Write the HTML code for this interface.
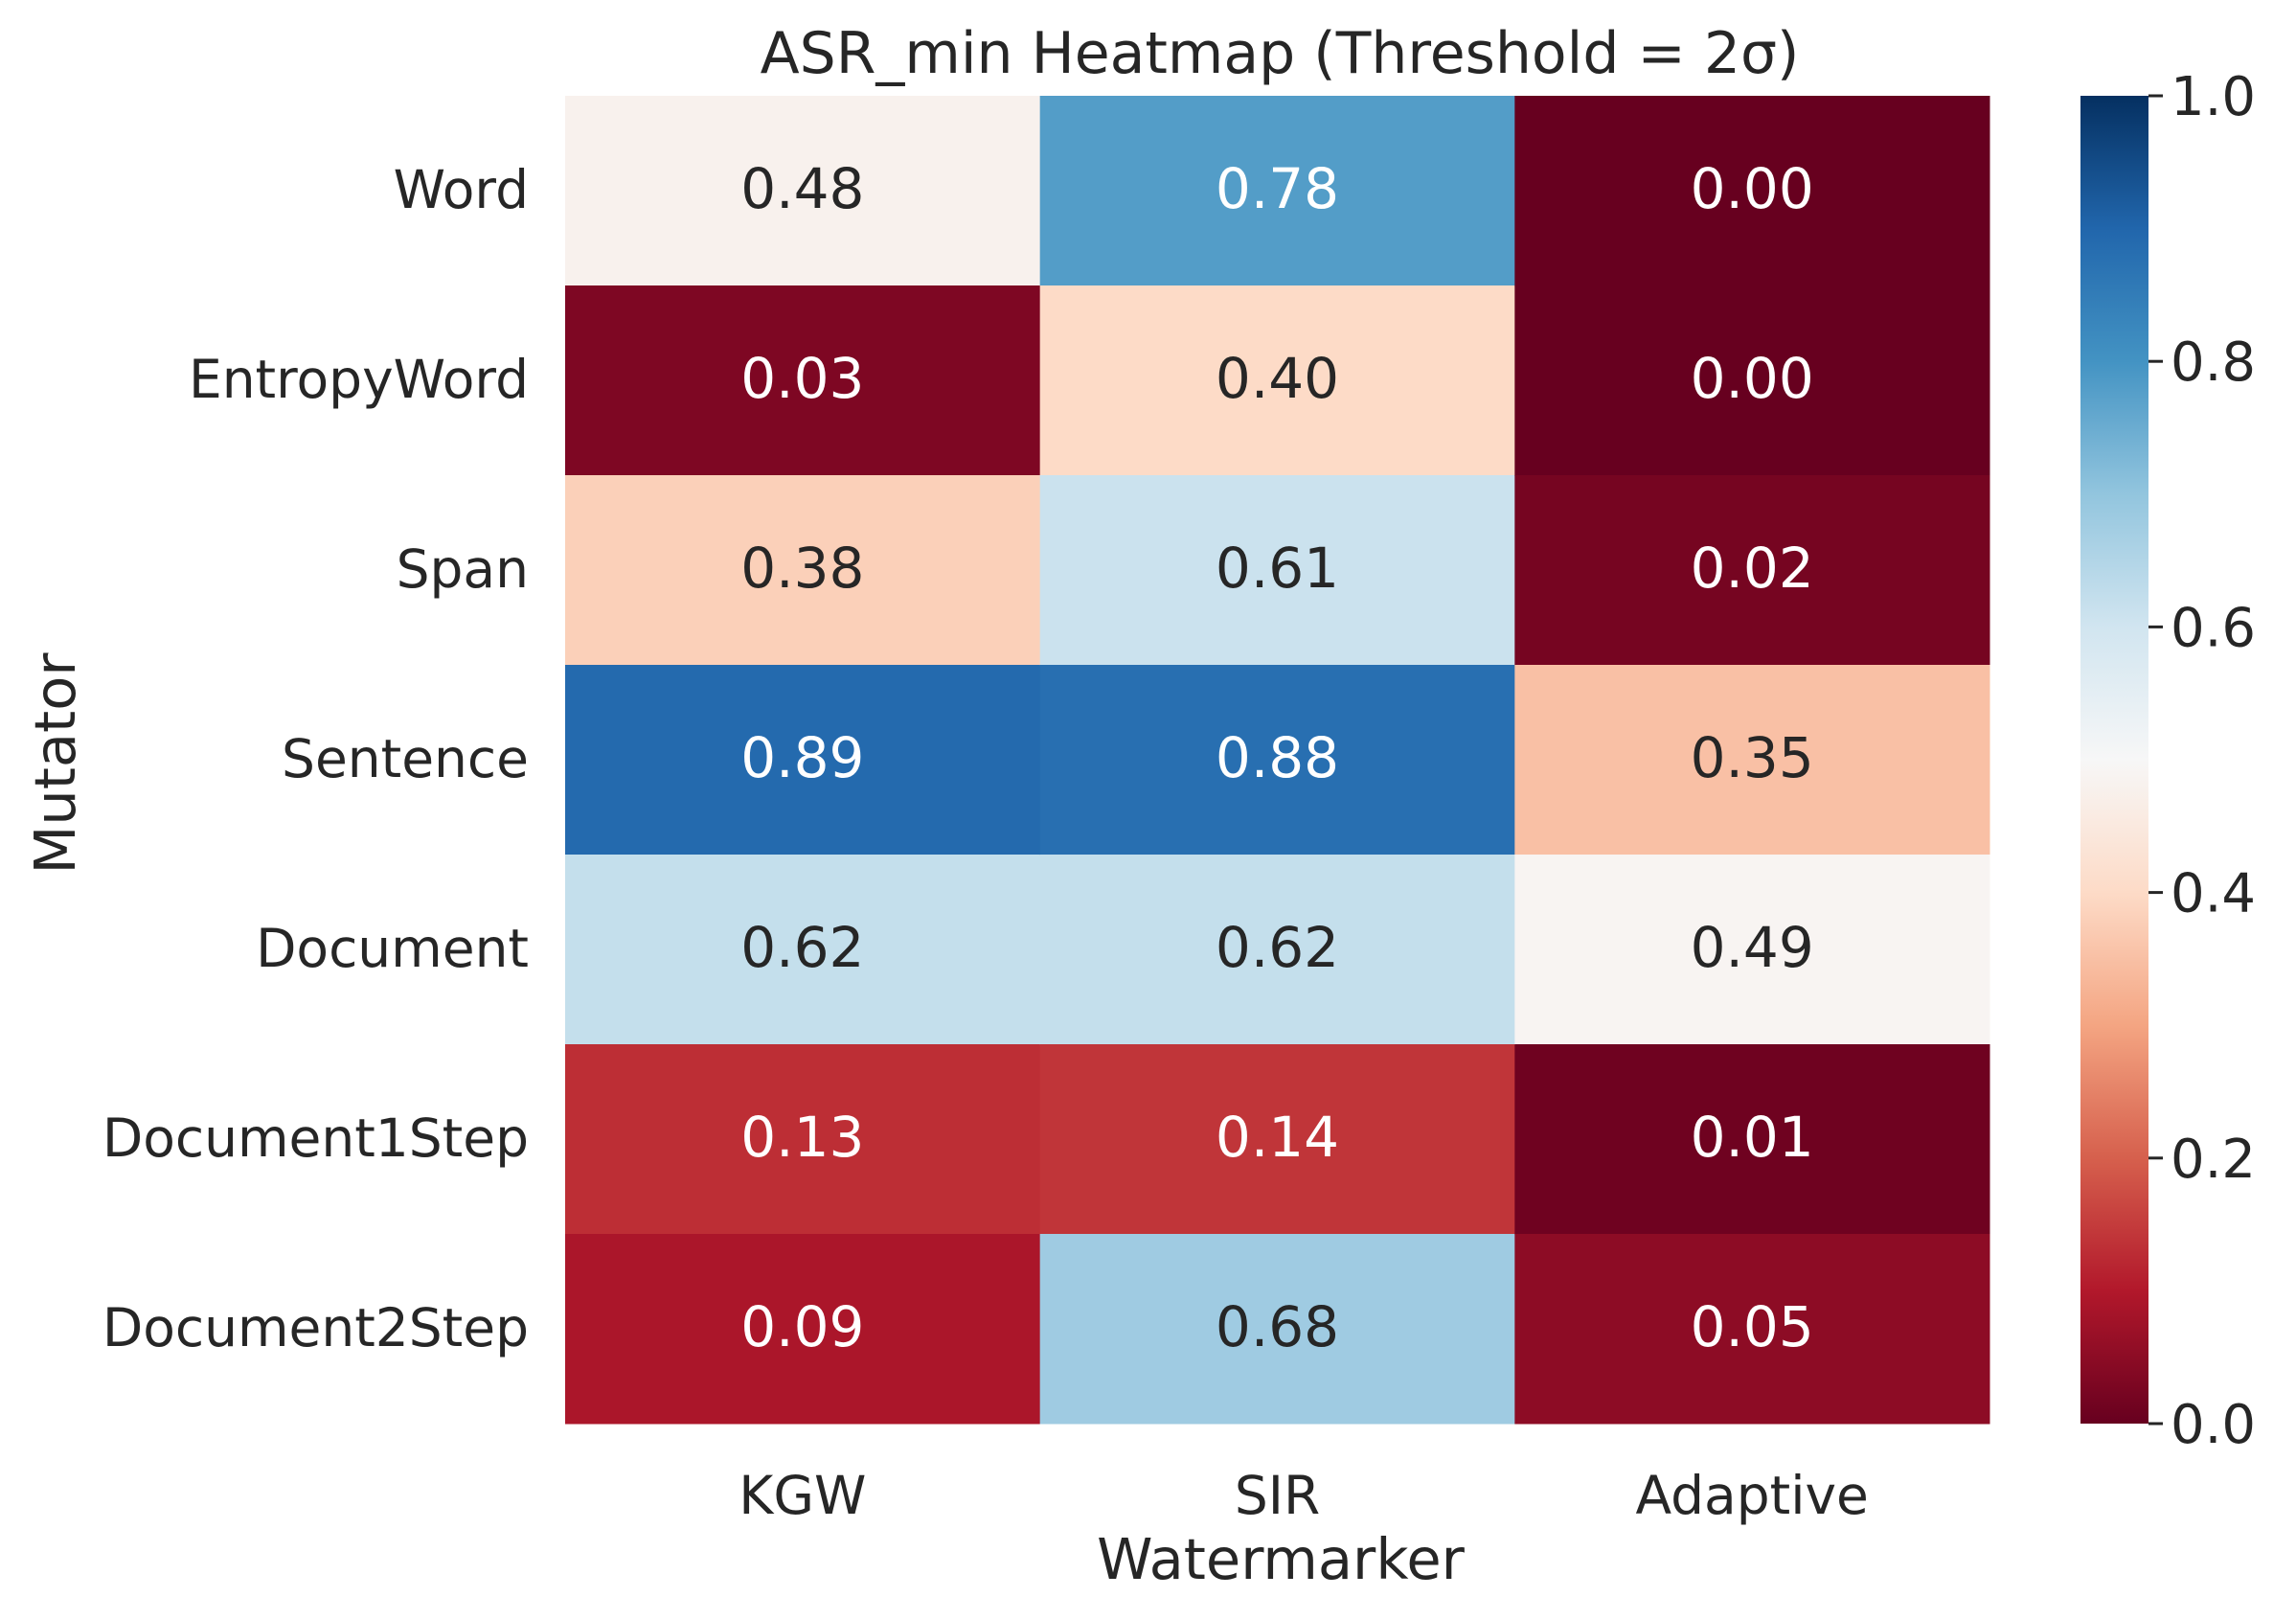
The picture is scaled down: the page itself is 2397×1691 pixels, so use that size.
<!DOCTYPE html>
<html><head><meta charset="utf-8"><style>
body{margin:0;background:#fff}
svg text{font-family:"DejaVu Sans","Liberation Sans",sans-serif;fill:#262626}
</style></head><body>
<svg width="2397" height="1686" viewBox="0 0 2397 1686" xmlns="http://www.w3.org/2000/svg">
<defs><linearGradient id="cb" x1="0" y1="1" x2="0" y2="0"></linearGradient></defs>
<text x="1336" y="76" font-size="60" text-anchor="middle">ASR_min Heatmap (Threshold = 2σ)</text>
<g id="cells"></g>
<g id="ylab"></g>
<g id="xlab"></g>
<text x="1337" y="1648" font-size="59" text-anchor="middle">Watermarker</text>
<text transform="translate(78,797) rotate(-90)" font-size="59" text-anchor="middle">Mutator</text>
<rect x="2172" y="100" width="71" height="1386" fill="url(#cb)"/>
<g id="cbt"></g>
</svg>
<script>
const rows=["Word","EntropyWord","Span","Sentence","Document","Document1Step","Document2Step"];
const cols=["KGW","SIR","Adaptive"];
const kgw=[0.48,0.03,0.38,0.89,0.62,0.13,0.09];
const sir=[0.78,0.40,0.61,0.88,0.62,0.14,0.68];
const adaptive=[0.00,0.00,0.02,0.35,0.49,0.01,0.05];
const cbTicks=[0,0.2,0.4,0.6,0.8,1.0];
const series=[kgw,sir,adaptive];
const stops=["#67001f","#b2182b","#d6604d","#f4a582","#fddbc7","#f7f7f7","#d1e5f0","#92c5de","#4393c3","#2166ac","#053061"];
const NS="http://www.w3.org/2000/svg";
const X0=590,X1=2077,Y0=100,Y1=1486;
const cw=(X1-X0)/cols.length, rh=(Y1-Y0)/rows.length;
const xs=i=>X0+i*cw, ys=j=>Y0+j*rh, cy=v=>Y1-v*(Y1-Y0);
function hex(h){return [1,3,5].map(i=>parseInt(h.substr(i,2),16));}
function cmap(v){v=Math.max(0,Math.min(1,v));const t=v*10,i=Math.min(9,Math.floor(t)),f=t-i;const a=hex(stops[i]),b=hex(stops[i+1]);return a.map((c,k)=>Math.round(c+(b[k]-c)*f));}
function mk(tag,attrs,parent){const e=document.createElementNS(NS,tag);for(const k in attrs)e.setAttribute(k,attrs[k]);parent.appendChild(e);return e;}
const cells=document.getElementById('cells');
series.forEach((s,i)=>s.forEach((v,j)=>{
 const c=cmap(v);
 const r=mk('rect',{x:xs(i),y:ys(j),width:cw+0.5,height:rh+0.5,fill:`rgb(${c})`},cells);
 
 
 const lum=(0.299*c[0]+0.587*c[1]+0.114*c[2])/255;
 const t=mk('text',{x:xs(i)+cw/2,y:ys(j)+rh/2+18,'font-size':58,'text-anchor':'middle'},cells);
 t.style.fill=lum<0.6?'#fff':'#262626';
 t.textContent=v.toFixed(2);
 
 
}));
const yl=document.getElementById('ylab');
rows.forEach((r,j)=>{const t=mk('text',{x:552,y:ys(j)+rh/2+18,'font-size':55,'text-anchor':'end'},yl);t.textContent=r;
 
 });
const xl=document.getElementById('xlab');
cols.forEach((c,i)=>{const t=mk('text',{x:xs(i)+cw/2,y:1580,'font-size':55,'text-anchor':'middle'},xl);t.textContent=c;
 
 });
const g=document.getElementById('cb');
stops.forEach((s,i)=>mk('stop',{offset:i/10,'stop-color':s},g));
const cbt=document.getElementById('cbt');
cbTicks.forEach(v=>{const l=mk('line',{x1:2243,x2:2258,y1:cy(v),y2:cy(v),stroke:'#262626','stroke-width':3},cbt);
 
 
 const t=mk('text',{x:2266,y:cy(v)+20,'font-size':56},cbt);t.textContent=v.toFixed(1);
 
 });
</script>
</body></html>
